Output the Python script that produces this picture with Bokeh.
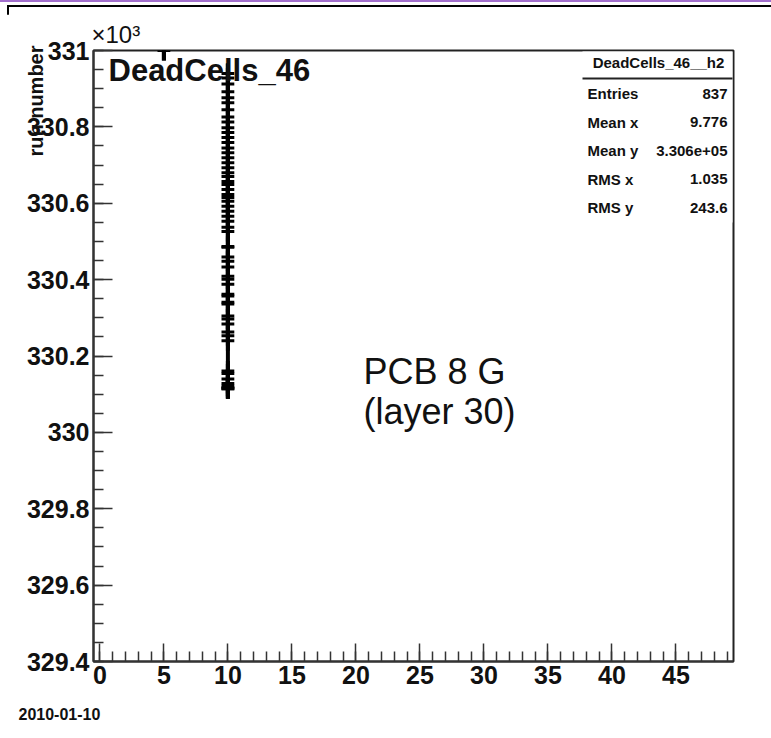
from bokeh.plotting import figure
from bokeh.models import (Range1d, SingleIntervalTicker, CustomJSTickFormatter,
                          Label, BoxAnnotation, ColumnDataSource, Title, Div)
from bokeh.layouts import column
from bokeh.embed import file_html
from bokeh.resources import INLINE

# ---------------- data ----------------
# filled (x-bin, run number) cells of histogram DeadCells_46__h2
col_x = [10] * 58 + [5]
col_run = [
    330940, 330928, 330912, 330892, 330876, 330863, 330845, 330826, 330813,
    330798, 330785, 330772, 330759, 330745, 330732, 330719, 330706, 330693,
    330680, 330670, 330657, 330649, 330636, 330623, 330615, 330605, 330592,
    330579, 330566, 330553, 330537, 330526, 330487, 330485, 330459, 330448,
    330433, 330409, 330401, 330388, 330362, 330357, 330341, 330336, 330305,
    330297, 330284, 330263, 330253, 330240, 330161, 330154, 330140, 330128,
    330121, 330117, 330114, 330114,
    331000,
]
bin_half_width = 0.5
run_err = 26

x_ticks_major = 5
y_ticks_major = 200

stats_title = "DeadCells_46__h2"
stats_names = ["Entries", "Mean x", "Mean y", "RMS x", "RMS y"]
stats_values = ["837", "9.776", "3.306e+05", "1.035", "243.6"]

hist_title = "DeadCells_46"
note_lines = ["PCB 8 G", "(layer 30)"]
y_title = "run number"
exp_text = "\u00d710\u00b3"
date_text = "2010-01-10"

FONT = "Liberation Sans"
TOP_STRIP = 14

# ---------------- figure ----------------
p = figure(width=771, height=738 - TOP_STRIP, output_backend="svg",
           toolbar_location=None,
           x_range=Range1d(-0.5, 49.5), y_range=Range1d(329400, 331000),
           min_border_left=93, min_border_right=38,
           min_border_top=50 - TOP_STRIP, min_border_bottom=74)
p.grid.visible = False
p.outline_line_color = "#222222"
p.outline_line_width = 2
p.background_fill_color = "white"
p.border_fill_color = "white"

for ax in (p.xaxis[0], p.yaxis[0]):
    ax.axis_line_color = "#333333"
    ax.axis_line_width = 2
    ax.major_tick_out = 0
    ax.minor_tick_out = 0
    ax.major_tick_line_color = "#333333"
    ax.minor_tick_line_color = "#333333"
    ax.major_tick_line_width = 1.5
    ax.minor_tick_line_width = 1.5
    ax.major_label_text_font = FONT
    ax.major_label_text_font_style = "bold"
    ax.major_label_text_font_size = "25px"
    ax.major_label_text_color = "#111111"

p.xaxis.ticker = SingleIntervalTicker(interval=x_ticks_major, num_minor_ticks=5)
p.xaxis.major_tick_in = 18
p.xaxis.minor_tick_in = 10
p.xaxis.major_label_standoff = 4

p.yaxis.ticker = SingleIntervalTicker(interval=y_ticks_major, num_minor_ticks=4)
p.yaxis.major_tick_in = 19
p.yaxis.minor_tick_in = 10
p.yaxis.major_label_standoff = 4
p.yaxis.formatter = CustomJSTickFormatter(code="""
    const v = Math.round(tick) / 1000;
    return String(Math.round(v * 10) / 10);
""")

p.add_layout(Title(text=y_title, align="right", text_font=FONT,
                   text_font_size="20px", text_font_style="bold",
                   text_color="#111111", standoff=-46, offset=-5), "left")
p.add_layout(Title(text=exp_text, align="left", text_font=FONT,
                   text_font_size="24px", text_font_style="normal",
                   text_color="#111111", standoff=6, offset=-2), "above")
p.add_layout(Title(text=date_text, align="left", text_font=FONT,
                   text_font_size="16px", text_font_style="bold",
                   text_color="#111111", standoff=38, offset=-75), "below")

# ---------------- marks ----------------
src = ColumnDataSource(dict(
    x=col_x, run=col_run,
    x0=[x - bin_half_width for x in col_x],
    x1=[x + bin_half_width for x in col_x],
    y0=[r - run_err for r in col_run],
    y1=[r + run_err for r in col_run],
))
stem_x, stem_lo, stem_hi = [], [], []
for xb in sorted(set(col_x)):
    rs = [r for x, r in zip(col_x, col_run) if x == xb]
    stem_x.append(xb)
    stem_lo.append(min(rs) - run_err)
    stem_hi.append(max(rs) + run_err)
p.segment(x0=stem_x, x1=stem_x, y0=stem_lo, y1=stem_hi,
          line_color="black", line_width=4)
p.segment(x0="x", x1="x", y0="y0", y1="y1", source=src,
          line_color="black", line_width=4)
p.segment(x0="x0", x1="x1", y0="run", y1="run", source=src,
          line_color="black", line_width=3)

# ---------------- texts inside frame ----------------
def lab(x, y, text, size, bold=True, align="left", baseline="middle",
        angle=0, color="#111111"):
    p.add_layout(Label(x=x, y=y - TOP_STRIP, x_units="canvas", y_units="canvas",
                       text=text, text_font=FONT, text_font_size=size,
                       text_font_style="bold" if bold else "normal",
                       text_align=align, text_baseline=baseline, angle=angle,
                       text_color=color))

def box(l, r, t, b, color):
    p.add_layout(BoxAnnotation(left=l, right=r, top=t - TOP_STRIP, bottom=b - TOP_STRIP,
                               left_units="canvas", right_units="canvas",
                               top_units="canvas", bottom_units="canvas",
                               fill_color=color, fill_alpha=1, line_alpha=0))

box(582, 732, 51, 222, "white")
box(582, 732, 77, 79, "#222222")
lab(658, 62, stats_title, "15px", align="center")
for i, (n, v) in enumerate(zip(stats_names, stats_values)):
    yy = 93 + i * 28.5
    lab(587, yy, n, "15px")
    lab(727, yy, v, "15px", align="right")

lab(108, 70, hist_title, "31px")
for i, t in enumerate(note_lines):
    lab(363, 371 + i * 40, t, "36px", bold=False)

# slide decoration strip above the canvas
strip = Div(width=771, height=TOP_STRIP, margin=0,
            text='<div style="position:absolute;left:0;top:0;width:771px;height:2px;'
                 'background:#a26fcd"></div>'
                 '<div style="position:absolute;left:7px;top:5px;width:764px;height:10px;'
                 'border-top:2px solid #000;border-left:2px solid #000"></div>')

layout = column(strip, p, spacing=0)
open("out.html", "w").write(file_html(layout, INLINE))
